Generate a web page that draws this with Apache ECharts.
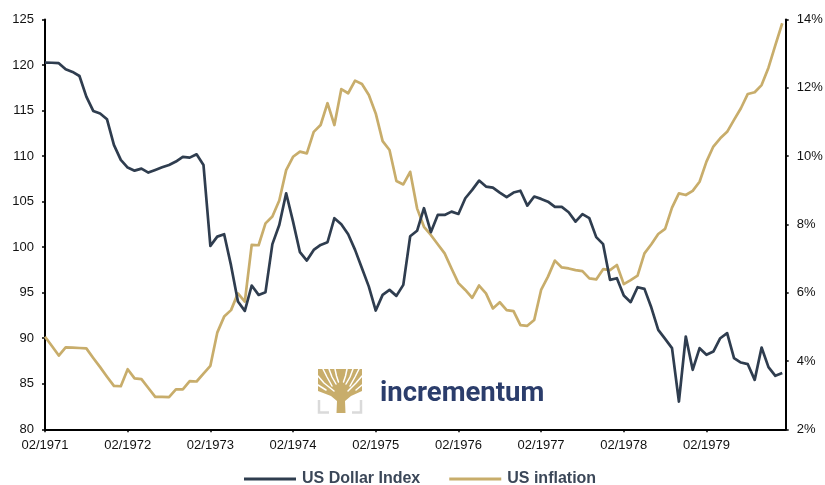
<!DOCTYPE html>
<html>
<head>
<meta charset="utf-8">
<script src="https://cdn.jsdelivr.net/npm/echarts@6/dist/echarts.min.js"></script>
<style>
html,body{margin:0;padding:0;background:#fff;}
#chart{width:825px;height:485px;}
</style>
</head>
<body>
<div id="chart"></div>
<script>
// Monthly observations, Feb 1971 .. Jan 1980
const tickLabels = ['02/1971','02/1972','02/1973','02/1974','02/1975','02/1976','02/1977','02/1978','02/1979'];
const seriesNames = ['US Dollar Index', 'US inflation'];

const dollarIndex = [
  120.26,120.25,120.2,119.53,119.24,118.8,116.53,114.96,114.67,114.04,111.23,109.58,
  108.74,108.4,108.62,108.19,108.48,108.77,109.03,109.4,109.91,109.83,110.2,109.03,
  100.14,101.16,101.42,98.0,94.03,93.0,95.79,94.76,95.06,100.33,102.44,105.92,
  102.81,99.45,98.53,99.7,100.25,100.54,103.18,102.52,101.42,99.7,97.69,95.67,
  93.04,94.76,95.31,94.65,95.86,101.2,101.8,104.28,101.64,103.54,103.54,103.9,
  103.65,105.37,106.29,107.31,106.65,106.54,106.0,105.49,106.0,106.2,104.56,105.56,
  105.3,105.0,104.42,104.42,103.84,102.81,103.62,103.18,101.1,100.33,96.41,96.59,
  94.69,93.96,95.6,95.42,93.37,90.92,89.93,88.91,83.05,90.19,86.53,88.91,
  88.18,88.54,90.0,90.56,87.81,87.33,87.15,85.43,88.98,86.83,85.87,86.17
];

const usInflation = [
  4.71,4.44,4.16,4.40,4.39,4.38,4.37,4.09,3.82,3.54,3.27,3.26,
  3.76,3.49,3.47,3.21,2.95,2.95,2.94,3.17,3.17,3.41,3.40,3.63,
  3.86,4.83,5.30,5.49,5.98,5.74,7.40,7.39,8.03,8.23,8.70,9.59,
  9.98,10.13,10.08,10.71,10.91,11.55,10.91,11.96,11.84,12.21,12.11,11.79,
  11.25,10.44,10.18,9.27,9.17,9.54,8.47,7.93,7.69,7.42,7.15,6.71,
  6.28,6.08,5.85,6.21,5.98,5.54,5.72,5.49,5.46,5.05,5.03,5.20,
  6.08,6.47,6.94,6.74,6.71,6.66,6.63,6.42,6.39,6.69,6.66,6.81,
  6.25,6.37,6.50,7.15,7.42,7.72,7.87,8.49,8.91,8.86,8.98,9.25,
  9.84,10.28,10.52,10.71,11.06,11.40,11.82,11.87,12.08,12.59,13.25,13.89
];

const toPairs = arr => arr.map((v, i) => [i, v]);

const FONT = '"Liberation Sans", Arial, sans-serif';
const GOLD = '#c8ad6b';
const NAVY = '#2f3d4f';
const GRAY = '#dadada';

function gap(points, w) {
  return {
    type: 'polyline', silent: true, z: 2,
    shape: { points: points },
    style: { stroke: '#ffffff', lineWidth: w || 1.5, fill: null, lineCap: 'round', lineJoin: 'round' }
  };
}

const chart = echarts.init(document.getElementById('chart'), null, { renderer: 'canvas' });

chart.setOption({
  backgroundColor: '#ffffff',
  animation: false,
  grid: { left: 45, right: 39.3, top: 19.5, bottom: 55.7, containLabel: false, outerBoundsMode: 'none' },
  legend: {
    left: 244,
    top: 471,
    padding: 0,
    icon: 'rect',
    itemWidth: 52,
    itemHeight: 3,
    itemGap: 29,
    data: seriesNames,
    textStyle: { fontFamily: FONT, fontSize: 16, fontWeight: 'bold', color: '#3b4758', padding: [0, 0, 0, 1] }
  },
  xAxis: {
    type: 'value',
    min: 0,
    max: 107.5,
    interval: 12,
    splitLine: { show: false },
    axisLine: { lineStyle: { color: '#000', width: 2 } },
    axisTick: { length: 3, lineStyle: { color: '#000', width: 1.5 } },
    axisLabel: {
      margin: 10,
      fontFamily: FONT,
      fontSize: 13,
      color: '#111',
      showMaxLabel: false,
      formatter: v => (v % 12 === 0 && tickLabels[v / 12]) ? tickLabels[v / 12] : ''
    }
  },
  yAxis: [
    {
      type: 'value',
      min: 80,
      max: 125,
      interval: 5,
      position: 'left',
      splitLine: { show: false },
      axisLine: { show: true, lineStyle: { color: '#000', width: 2 } },
      axisTick: { show: true, length: 3, lineStyle: { color: '#000', width: 1.5 } },
      axisLabel: { margin: 11, fontFamily: FONT, fontSize: 13, color: '#111' }
    },
    {
      type: 'value',
      min: 2,
      max: 14,
      interval: 2,
      position: 'right',
      splitLine: { show: false },
      axisLine: { show: true, lineStyle: { color: '#000', width: 2 } },
      axisTick: { show: true, length: 3, lineStyle: { color: '#000', width: 1.5 } },
      axisLabel: { margin: 11, fontFamily: FONT, fontSize: 13, color: '#111', formatter: '{value}%' }
    }
  ],
  series: [
    {
      name: seriesNames[0],
      type: 'line',
      yAxisIndex: 0,
      data: toPairs(dollarIndex),
      symbol: 'none',
      lineStyle: { color: NAVY, width: 2.7, join: 'round' },
      itemStyle: { color: NAVY },
      z: 3
    },
    {
      name: seriesNames[1],
      type: 'line',
      yAxisIndex: 1,
      data: toPairs(usInflation),
      symbol: 'none',
      lineStyle: { color: GOLD, width: 2.7, join: 'round' },
      itemStyle: { color: GOLD },
      z: 2
    }
  ],
  graphic: [
    // logo: tree crown + trunk
    {
      type: 'polygon', silent: true, z: 1,
      shape: { points: [[318, 369], [362, 369], [362, 391], [351, 396], [345, 401], [345.5, 413], [336.5, 413], [337, 401], [331, 396], [318, 391]] },
      style: { fill: GOLD }
    },
    gap([[323, 369], [327, 377], [332, 386]]),
    gap([[329, 369], [332, 377], [336, 384]]),
    gap([[335, 369], [336.5, 376], [338.5, 382]]),
    gap([[347, 369], [345.5, 376], [343.5, 382]]),
    gap([[353, 369], [350, 377], [346, 384]]),
    gap([[359, 369], [355, 377], [350, 386]]),
    gap([[318, 376], [324, 383], [334, 391]]),
    gap([[362, 376], [356, 383], [348, 391]]),
    gap([[318, 385], [326, 390]]),
    gap([[362, 385], [356, 390]]),
    // logo: gray brackets
    {
      type: 'polyline', silent: true, z: 1,
      shape: { points: [[319, 400], [319, 412.5], [329, 412.5]] },
      style: { stroke: GRAY, lineWidth: 2.5, fill: null }
    },
    {
      type: 'polyline', silent: true, z: 1,
      shape: { points: [[361, 400], [361, 412.5], [352, 412.5]] },
      style: { stroke: GRAY, lineWidth: 2.5, fill: null }
    },
    // logo: wordmark
    {
      type: 'text', silent: true, z: 1,
      x: 380, y: 394.5,
      style: {
        text: 'incrementum',
        fontFamily: 'Roboto, "Liberation Sans", sans-serif',
        fontSize: 27.5,
        fontWeight: 'bold',
        fill: '#2b3d6b',
        verticalAlign: 'middle',
        align: 'left'
      }
    }
  ]
});
</script>
</body>
</html>
